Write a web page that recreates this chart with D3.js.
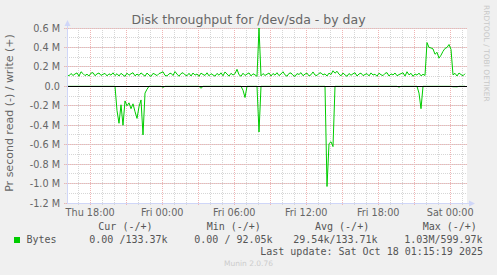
<!DOCTYPE html>
<html>
<head>
<meta charset="utf-8">
<title>Disk throughput for /dev/sda - by day</title>
<script type="text/javascript" src="https://d3js.org/d3.v7.js"></script>
<style>
    * { margin: 0; padding: 0; }
    body { background: #f0f0f0; }
    #chart-container { width: 497px; height: 275px; }
</style>
</head>
<body>
    <div id="chart-container"></div>

    <script type="text/javascript">
        // 数据定义 (10 分钟一个采样点, 单位 k = 1000 bytes/s)
        const startTime = new Date(2025, 9, 16, 16, 4);
        const stepMinutes = 10;

        // write (+)
        const writeK = [
            118,108,132,112,127,138,104,150,131,110,125,106,136,141,109,128,137,112,124,133,107,129,115,139,111,
            130,106,134,117,103,136,114,129,140,108,126,112,138,121,105,137,116,102,133,124,110,131,139,150,113,
            107,128,135,111,152,126,104,131,140,118,109,134,106,137,115,127,103,136,122,112,139,108,130,117,105,
            133,114,139,108,148,127,105,134,116,130,175,119,104,135,112,126,138,107,129,118,103,600,108,131,112,
            124,137,106,132,115,140,110,127,150,118,104,133,138,113,102,131,122,141,109,126,136,107,119,148,116,
            111,134,139,117,128,106,136,121,160,135,155,125,108,137,118,103,132,114,129,140,106,127,136,110,122,
            131,107,138,116,125,104,135,119,110,133,141,106,128,117,137,109,121,130,140,105,150,118,134,103,127,
            115,136,108,124,112,450,400,395,385,330,350,290,320,360,390,400,430,380,118,134,106,137,121,109,130
        ];

        // read (-), 存为正值, 绘制时取负
        const readK = [
            0,0,0,0,0,0,0,0,0,0,0,0,0,0,0,0,0,0,0,0,0,0,0,0,0,
            250,380,190,400,150,200,170,230,180,260,330,210,140,500,70,30,0,0,0,0,0,0,0,10,0,
            0,0,0,0,0,0,0,0,0,0,0,0,0,0,0,0,0,20,0,0,0,0,0,0,0,
            0,0,0,0,0,0,0,0,0,0,0,0,0,40,115,0,0,0,0,0,0,470,0,0,0,
            0,0,0,0,0,0,0,0,0,0,0,0,0,0,0,0,0,0,0,0,0,0,0,0,0,
            0,0,0,0,0,1030,590,570,620,0,0,0,0,0,0,0,0,0,0,0,0,0,0,0,0,
            0,0,0,0,0,0,0,0,0,0,0,0,0,0,0,0,8,0,0,0,0,0,0,0,0,
            0,70,230,0,0,0,0,0,0,0,0,0,0,0,0,0,0,0,4,4,5,0,0,0,0
        ];

        // y 轴刻度 (单位 M)
        const yTickValues = [0.6, 0.4, 0.2, 0.0, -0.2, -0.4, -0.6, -0.8, -1.0, -1.2];
        const yTickLabels = ["0.6 M", "0.4 M", "0.2 M", "0.0", "-0.2 M", "-0.4 M", "-0.6 M", "-0.8 M", "-1.0 M", "-1.2 M"];

        // 图例
        const legendHeaders = ["Cur (-/+)", "Min (-/+)", "Avg (-/+)", "Max (-/+)"];
        const legendValues = ["0.00 /133.37k", "0.00 / 92.05k", "29.54k/133.71k", "1.03M/599.97k"];
        const seriesName = "Bytes";
        const lastUpdate = "Last update: Sat Oct 18 01:15:19 2025";

        // 布局
        const W = 497, H = 275;
        const plot = { left: 67, top: 28, width: 400, height: 175 };
        const green = "#00cc00";
        const fontColor = "#666666";
        const sans = "'DejaVu Sans', sans-serif";
        const mono = "'DejaVu Sans Mono', monospace";

        const timeAt = i => d3.timeMinute.offset(startTime, i * stepMinutes);
        const endTime = timeAt(writeK.length);

        const xScale = d3.scaleTime()
            .domain([startTime, endTime])
            .range([plot.left, plot.left + plot.width]);
        const yScale = d3.scaleLinear()
            .domain([-1.2e6, 0.6e6])
            .range([plot.top + plot.height, plot.top]);

        const px = v => Math.floor(v) + 0.5;

        const svg = d3.select("#chart-container")
            .append("svg")
            .attr("width", W)
            .attr("height", H)
            .style("background", "#f0f0f0");

        // 画布
        svg.append("rect")
            .attr("x", plot.left).attr("y", plot.top)
            .attr("width", plot.width).attr("height", plot.height)
            .attr("fill", "#ffffff");

        // 网格
        const grid = svg.append("g");
        const minorY = d3.range(-12, 7).map(d => d * 1e5);
        const majorY = yTickValues.map(d => d * 1e6);
        const minorX = xScale.ticks(d3.timeHour.every(1));
        const majorX = xScale.ticks(d3.timeHour.every(3));
        const minorColor = "#d6d6d6";
        const majorColor = "#f0b4b4";

        grid.selectAll(".hminor").data(minorY).join("line")
            .attr("x1", plot.left - 2).attr("x2", plot.left + plot.width)
            .attr("y1", d => px(yScale(d))).attr("y2", d => px(yScale(d)))
            .attr("stroke", minorColor).attr("stroke-dasharray", "1,1");
        grid.selectAll(".vminor").data(minorX).join("line")
            .attr("x1", d => px(xScale(d))).attr("x2", d => px(xScale(d)))
            .attr("y1", plot.top).attr("y2", plot.top + plot.height + 2)
            .attr("stroke", minorColor).attr("stroke-dasharray", "1,1");
        grid.selectAll(".hmajor").data(majorY).join("line")
            .attr("x1", plot.left - 3).attr("x2", plot.left + plot.width)
            .attr("y1", d => px(yScale(d))).attr("y2", d => px(yScale(d)))
            .attr("stroke", majorColor).attr("stroke-dasharray", "1,1");
        grid.selectAll(".vmajor").data(majorX).join("line")
            .attr("x1", d => px(xScale(d))).attr("x2", d => px(xScale(d)))
            .attr("y1", plot.top).attr("y2", plot.top + plot.height + 3)
            .attr("stroke", majorColor).attr("stroke-dasharray", "1,1");

        // 数据线
        const line = d3.line()
            .x((d, i) => xScale(timeAt(i)))
            .y(d => yScale(d));

        svg.append("path")
            .datum(readK.map(v => -v * 1000))
            .attr("d", line)
            .attr("fill", "none")
            .attr("stroke", green)
            .attr("stroke-width", 1);

        // 零线
        svg.append("line")
            .attr("x1", plot.left).attr("x2", plot.left + plot.width)
            .attr("y1", px(yScale(0))).attr("y2", px(yScale(0)))
            .attr("stroke", "#000000");

        svg.append("path")
            .datum(writeK.map(v => v * 1000))
            .attr("d", line)
            .attr("fill", "none")
            .attr("stroke", green)
            .attr("stroke-width", 1);

        // 坐标轴线 + 箭头
        const axisColor = "#cfd6f8";
        const yb = px(plot.top + plot.height);
        svg.append("line")
            .attr("x1", px(plot.left)).attr("x2", px(plot.left))
            .attr("y1", yb).attr("y2", plot.top - 4)
            .attr("stroke", axisColor);
        svg.append("line")
            .attr("x1", plot.left).attr("x2", plot.left + plot.width + 4)
            .attr("y1", yb).attr("y2", yb)
            .attr("stroke", axisColor);
        svg.append("path")
            .attr("d", `M${plot.left - 2.5},${plot.top - 2} L${plot.left + 3.5},${plot.top - 2} L${plot.left + 0.5},${plot.top - 8} Z`)
            .attr("fill", axisColor);
        svg.append("path")
            .attr("d", `M${plot.left + plot.width + 2},${yb - 3} L${plot.left + plot.width + 2},${yb + 3} L${plot.left + plot.width + 8},${yb} Z`)
            .attr("fill", axisColor);

        // y 轴标签
        svg.append("g").selectAll("text")
            .data(yTickValues)
            .join("text")
            .attr("x", 60)
            .attr("y", d => yScale(d * 1e6) + 3.5)
            .attr("text-anchor", "end")
            .style("font-family", sans)
            .style("font-size", "9.7px")
            .attr("fill", fontColor)
            .text((d, i) => yTickLabels[i]);

        // x 轴标签
        svg.append("g").selectAll("text")
            .data(xScale.ticks(d3.timeHour.every(6)))
            .join("text")
            .attr("x", d => xScale(d))
            .attr("y", 216)
            .attr("text-anchor", "middle")
            .style("font-family", sans)
            .style("font-size", "9.7px")
            .attr("fill", fontColor)
            .text(d3.timeFormat("%a %H:%M"));

        // 标题
        svg.append("text")
            .attr("x", W / 2).attr("y", 24)
            .attr("text-anchor", "middle")
            .style("font-family", sans)
            .style("font-size", "12.5px")
            .attr("fill", fontColor)
            .text("Disk throughput for /dev/sda - by day");

        // y 轴标题
        svg.append("text")
            .attr("transform", "translate(13, 113) rotate(-90)")
            .attr("text-anchor", "middle")
            .style("font-family", sans)
            .style("font-size", "11px")
            .attr("fill", fontColor)
            .text("Pr second read (-) / write (+)");

        // 水印
        svg.append("text")
            .attr("transform", "translate(484, 5) rotate(90)")
            .style("font-family", sans)
            .style("font-size", "7.5px")
            .attr("fill", "#c8c8c8")
            .text("RRDTOOL / TOBI OETIKER");

        // 图例
        const headerX = [98.3, 206.7, 315, 422.7];
        const valueX = [89.3, 194.3, 293.3, 404.3];
        const legend = svg.append("g")
            .style("font-family", mono)
            .style("font-size", "10px")
            .style("white-space", "pre")
            .attr("fill", "#555555");

        legend.selectAll(".hdr").data(legendHeaders).join("text")
            .attr("x", (d, i) => headerX[i]).attr("y", 230)
            .text(d => d);
        legend.append("rect")
            .attr("x", 14).attr("y", 237)
            .attr("width", 6).attr("height", 6)
            .attr("fill", green);
        legend.append("text")
            .attr("x", 26.5).attr("y", 242.7)
            .text(seriesName);
        legend.selectAll(".val").data(legendValues).join("text")
            .attr("x", (d, i) => valueX[i]).attr("y", 242.7)
            .text(d => d);
        legend.append("text")
            .attr("x", 483).attr("y", 254.5)
            .attr("text-anchor", "end")
            .text(lastUpdate);

        svg.append("text")
            .attr("x", W / 2).attr("y", 266)
            .attr("text-anchor", "middle")
            .style("font-family", sans)
            .style("font-size", "7.5px")
            .attr("fill", "#cccccc")
            .text("Munin 2.0.76");
    </script>
</body>
</html>
